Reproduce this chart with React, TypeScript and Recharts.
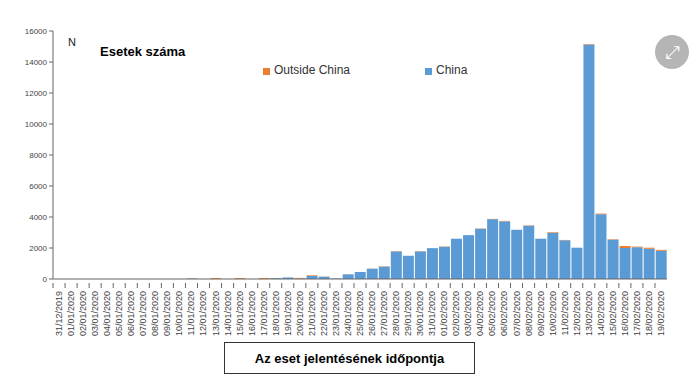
import React from 'react';
import { BarChart, Bar, XAxis, YAxis } from 'recharts';

const dates = [
  '31/12/2019', '01/01/2020', '02/01/2020', '03/01/2020', '04/01/2020', '05/01/2020', '06/01/2020',
  '07/01/2020', '08/01/2020', '09/01/2020', '10/01/2020', '11/01/2020', '12/01/2020', '13/01/2020',
  '14/01/2020', '15/01/2020', '16/01/2020', '17/01/2020', '18/01/2020', '19/01/2020', '20/01/2020',
  '21/01/2020', '22/01/2020', '23/01/2020', '24/01/2020', '25/01/2020', '26/01/2020', '27/01/2020',
  '28/01/2020', '29/01/2020', '30/01/2020', '31/01/2020', '01/02/2020', '02/02/2020', '03/02/2020',
  '04/02/2020', '05/02/2020', '06/02/2020', '07/02/2020', '08/02/2020', '09/02/2020', '10/02/2020',
  '11/02/2020', '12/02/2020', '13/02/2020', '14/02/2020', '15/02/2020', '16/02/2020', '17/02/2020',
  '18/02/2020', '19/02/2020',
];

const china = [
  0, 0, 0, 0, 0, 0, 0,
  0, 0, 0, 0, 40, 0, 0,
  0, 0, 0, 0, 60, 100, 20,
  200, 150, 40, 300, 450, 660, 800,
  1780, 1500, 1780, 1990, 2080, 2600, 2830,
  3240, 3860, 3720, 3180, 3440, 2600, 2980,
  2500, 2020, 15130, 4180, 2540, 2000, 2050,
  1950, 1820,
];

const outside = [
  0, 0, 0, 0, 0, 0, 0,
  0, 0, 0, 0, 0, 0, 60,
  0, 60, 0, 60, 0, 0, 50,
  40, 10, 0, 10, 0, 10, 20,
  20, 0, 20, 0, 20, 0, 0,
  20, 20, 30, 0, 20, 0, 40,
  20, 0, 30, 40, 30, 130, 40,
  70, 60,
];

const yTicks = [0, 2000, 4000, 6000, 8000, 10000, 12000, 14000, 16000];

const BLUE = '#5b9bd5';
const ORANGE = '#ed7d31';
const FONT = '"Liberation Sans", Arial, sans-serif';

const data = dates.map((d, i) => ({ date: d, china: china[i], outside: outside[i] }));

const DateTick = (props: any) => {
  const { x, y, payload } = props;
  return (
    <g transform={`translate(${x},${y})`}>
      <line x1={-6} y1={-4} x2={-6} y2={1} stroke="#666" strokeWidth={1} />
      <text
        transform="rotate(-90)"
        x={-4}
        y={0}
        dy={3}
        textAnchor="end"
        fontSize={9}
        fontFamily={FONT}
        fill="#444"
      >
        {payload.value}
      </text>
    </g>
  );
};

export default function App() {
  return (
    <div style={{ position: 'relative', width: 700, height: 388, background: '#fff', overflow: 'hidden', fontFamily: FONT }}>
      <style>{'body{margin:0}'}</style>
      <BarChart
        width={700}
        height={388}
        data={data}
        margin={{ top: 31, right: 33, bottom: 49, left: 0 }}
        barCategoryGap="6%"
      >
        <XAxis
          dataKey="date"
          interval={0}
          tick={<DateTick />}
          tickLine={false}
          axisLine={{ stroke: '#666' }}
          height={60}
        />
        <YAxis
          domain={[0, 16000]}
          ticks={yTicks}
          width={53}
          tickSize={4}
          tickLine={{ stroke: '#666' }}
          axisLine={{ stroke: '#666' }}
          tick={{ fontSize: 8, fill: '#444', fontFamily: FONT }}
        />
        <Bar dataKey="china" name="China" stackId="a" fill={BLUE} isAnimationActive={false} />
        <Bar dataKey="outside" name="Outside China" stackId="a" fill={ORANGE} isAnimationActive={false} />
      </BarChart>

      <div style={{ position: 'absolute', left: 263, top: 62, width: 300, height: 20, fontSize: 12, color: '#333' }}>
        <span style={{ position: 'absolute', left: 0, top: 6, width: 7, height: 7, background: ORANGE }} />
        <span style={{ position: 'absolute', left: 11, top: 1 }}>Outside China</span>
        <span style={{ position: 'absolute', left: 162, top: 6, width: 7, height: 7, background: BLUE }} />
        <span style={{ position: 'absolute', left: 173, top: 1 }}>China</span>
      </div>

      <div style={{ position: 'absolute', left: 68, top: 36, fontSize: 11, color: '#222' }}>N</div>
      <div style={{ position: 'absolute', left: 100, top: 44, fontSize: 13, fontWeight: 'bold', color: '#000' }}>
        Esetek száma
      </div>

      <div
        style={{
          position: 'absolute', left: 655, top: 35, width: 34, height: 34, borderRadius: '50%',
          background: '#b5b5b5', color: '#fff', fontSize: 18, lineHeight: '34px', textAlign: 'center',
        }}
      >
        ⤢
      </div>

      <div
        style={{
          position: 'absolute', left: 224, top: 342, width: 249, height: 30,
          border: '1.5px solid #333', boxSizing: 'content-box',
          display: 'flex', alignItems: 'center', justifyContent: 'center',
          fontSize: 13, fontWeight: 'bold', color: '#000',
        }}
      >
        Az eset jelentésének időpontja
      </div>
    </div>
  );
}
